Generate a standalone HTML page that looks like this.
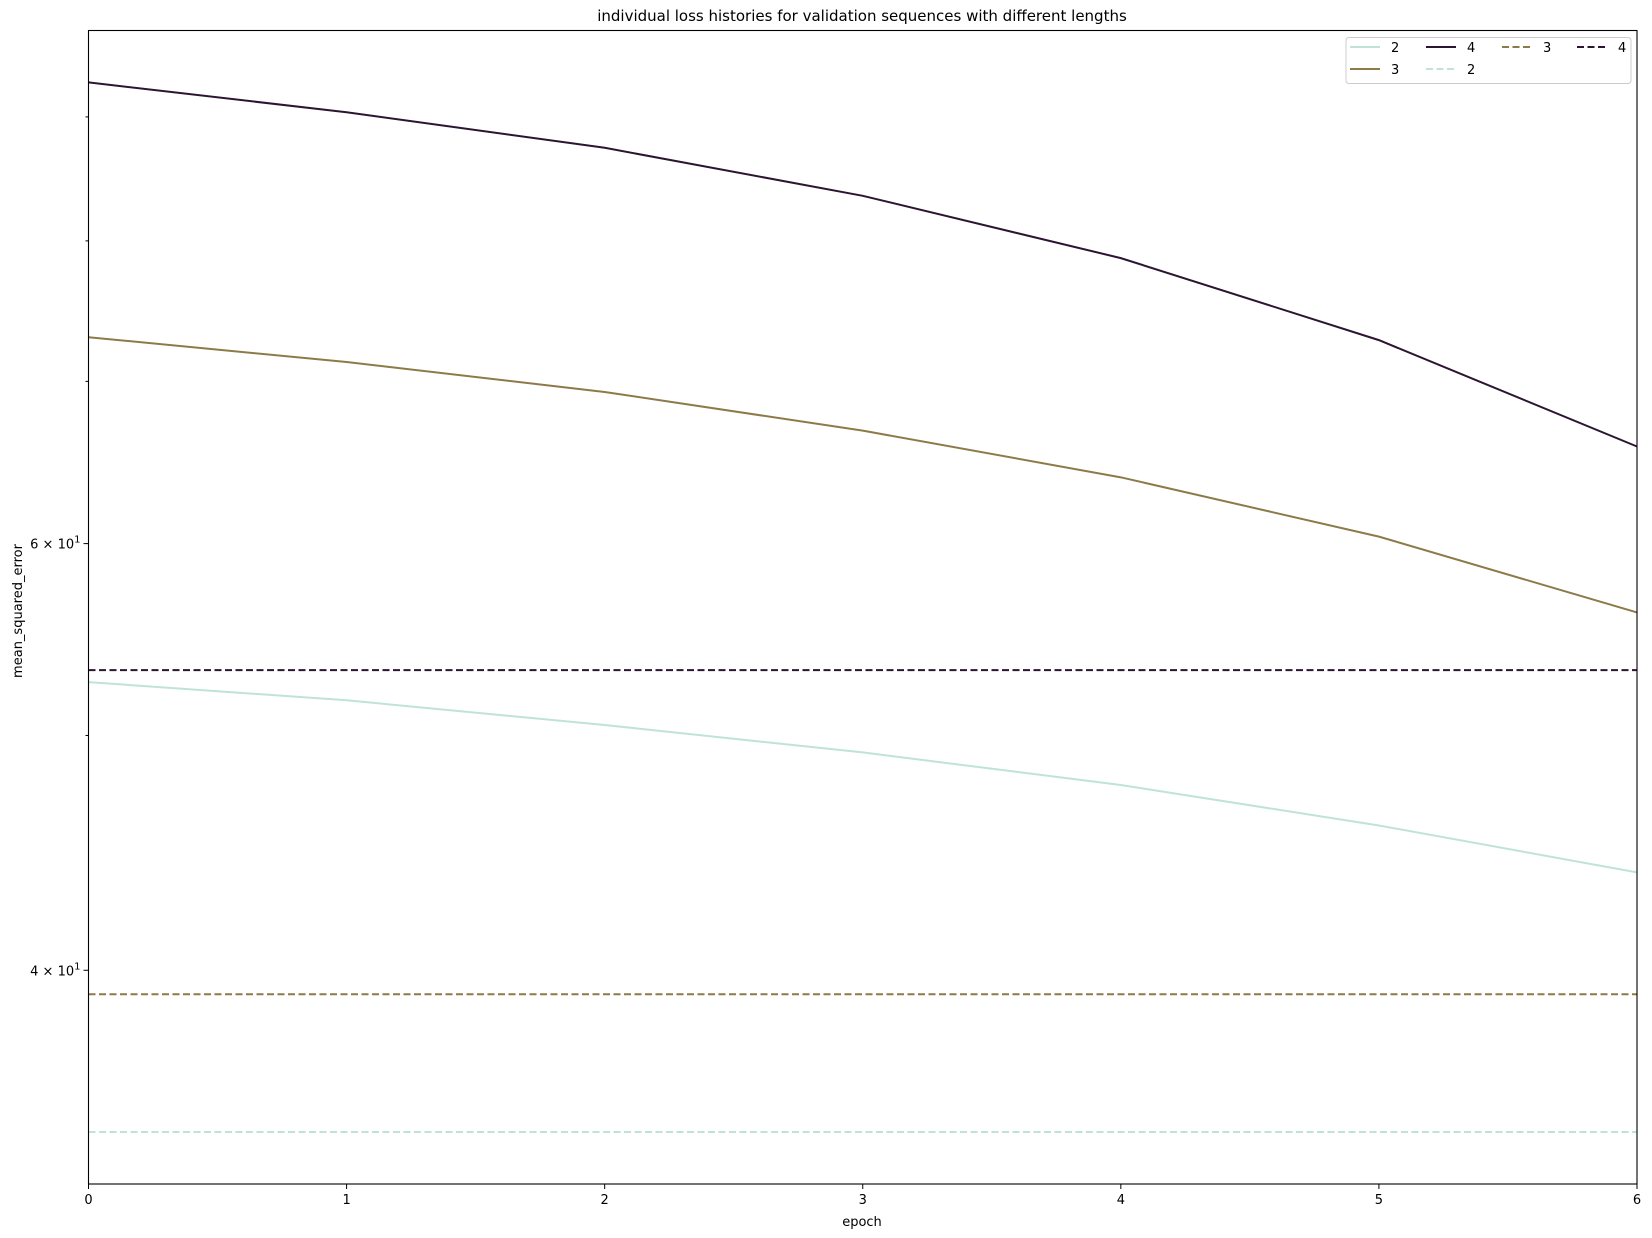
<!DOCTYPE html>
<html><head><meta charset="utf-8"><style>
body{margin:0;background:#fff;}
svg{display:block;font-family:"DejaVu Sans","Liberation Sans",sans-serif;}
</style></head><body>
<svg id="chart" width="1652" height="1238">
<rect width="1652" height="1238" fill="#fff"/>
<text x="862" y="21" text-anchor="middle" font-size="15">individual loss histories for validation sequences with different lengths</text>
<g id="plot"></g>
<rect x="88.5" y="30.5" width="1548.5" height="1153.5" fill="none" stroke="#000" stroke-width="1.1"/>
<text x="862" y="1226" text-anchor="middle" font-size="13">epoch</text>
<text transform="translate(22,611) rotate(-90)" text-anchor="middle" font-size="13">mean_squared_error</text>
<g id="legend"></g>
</svg>
<script>
const epochs=[0,1,2,3,4,5,6];
const xTicks=[0,1,2,3,4,5,6];
const series4=[93.0,90.4,87.4,83.5,78.7,72.8,65.8];
const series3=[73.0,71.3,69.3,66.8,63.9,60.4,56.2];
const series2=[52.6,51.7,50.5,49.2,47.7,45.9,43.9];
const baseline4=53.2;
const baseline3=39.1;
const baseline2=34.3;
const majorTicks=[40,60];
const majorLabels=["4","6"];
const minorTicks=[50,70,80,90];

const NS="http://www.w3.org/2000/svg";
const X0=88.5,X1=1637,Y0=30.5,Y1=1184;
const x=v=>X0+(v-0)/(6-0)*(X1-X0);
const y=v=>543.6-(Math.log10(v)-Math.log10(60))*2423;
const plot=document.getElementById('plot');
function mk(tag,attrs,parent){const e=document.createElementNS(NS,tag);for(const k in attrs)e.setAttribute(k,attrs[k]);parent.appendChild(e);return e;}

xTicks.forEach(t=>{
  const l=mk('line',{x1:x(t),x2:x(t),y1:Y1,y2:Y1+5,stroke:'#000'},plot);
  
  
  const tx=mk('text',{x:x(t),y:Y1+20,'text-anchor':'middle','font-size':'13'},plot);
  tx.textContent=t;
  
  
});
majorTicks.forEach((t,i)=>{
  const l=mk('line',{x1:X0-5,x2:X0,y1:y(t),y2:y(t),stroke:'#000'},plot);
  
  
  const tx=mk('text',{x:X0-8,y:y(t)+5,'text-anchor':'end','font-size':'13'},plot);
  tx.innerHTML=majorLabels[i]+' × 10<tspan dy="-6" font-size="10">1</tspan>';
  
  
});
minorTicks.forEach(t=>{
  const l=mk('line',{x1:X0-3,x2:X0,y1:y(t),y2:y(t),stroke:'#000'},plot);
  
  
});
const C2='#bfe3da',C3='#8c7a48',C4='#2b1530';
function line(vals,color,name){
  const p=mk('polyline',{points:epochs.map((e,i)=>x(e)+','+y(vals[i])).join(' '),fill:'none',stroke:color,'stroke-width':'2'},plot);
  
  
}
function hline(v,color,name){
  const p=mk('line',{x1:X0,x2:X1,y1:y(v),y2:y(v),stroke:color,'stroke-width':'2','stroke-dasharray':'7,3.5'},plot);
  
  
}
line(series2,C2,'line-length-2');
line(series3,C3,'line-length-3');
line(series4,C4,'line-length-4');
hline(baseline2,C2,'baseline-length-2');
hline(baseline3,C3,'baseline-length-3');
hline(baseline4,C4,'baseline-length-4');

const lg=document.getElementById('legend');
mk('rect',{x:1346,y:37.5,width:285,height:46,rx:3,fill:'#fff',stroke:'#ccc'},lg);
const entries=[[1350,47,C2,false,'2'],[1350,69,C3,false,'3'],[1426,47,C4,false,'4'],[1426,69,C2,true,'2'],[1502,47,C3,true,'3'],[1577,47,C4,true,'4']];
entries.forEach(en=>{
  const l=mk('line',{x1:en[0],x2:en[0]+30,y1:en[1],y2:en[1],stroke:en[2],'stroke-width':'2'},lg);
  if(en[3])l.setAttribute('stroke-dasharray','7,3.5');
  
  
  const t=mk('text',{x:en[0]+41,y:en[1]+5,'font-size':'13'},lg);
  t.textContent=en[4];
  
  
});
</script>
</body></html>
